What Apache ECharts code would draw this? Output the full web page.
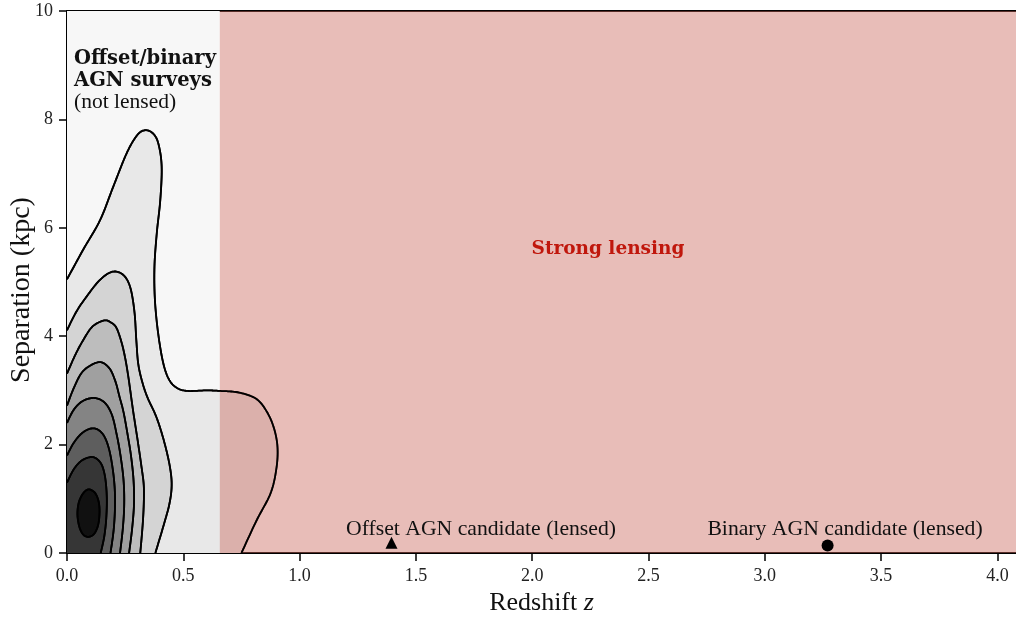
<!DOCTYPE html>
<html>
<head>
<meta charset="utf-8">
<script src="https://cdn.jsdelivr.net/npm/echarts@6/dist/echarts.min.js"></script>
<style>
html,body{margin:0;padding:0;background:#fff;}
#chart{width:1016px;height:617px;}
</style>
</head>
<body>
<div id="chart"></div>
<script>
// ---- axis ranges / ticks ----
const zRange = [0, 4.08];
const sepRange = [0, 10];
const zTickStep = 0.5;
const sepTickStep = 2;

// ---- regions (redshift) ----
const surveyRegion = [0, 0.657];
const lensingRegion = [0.657, 4.08];

// ---- KDE contour lines: [z, separation] ----
const contour1 = [[0,5.05],[0.07,5.6],[0.142,6.14],[0.199,6.76],[0.256,7.37],[0.3,7.7],[0.335,7.8],[0.37,7.74],[0.393,7.55],[0.407,7.13],[0.401,6.51],[0.386,5.9],[0.376,5.28],[0.378,4.67],[0.392,4.05],[0.414,3.5],[0.44,3.19],[0.475,3.04],[0.52,2.99],[0.6,3.0],[0.66,2.99],[0.74,2.96],[0.815,2.84],[0.86,2.6],[0.89,2.3],[0.905,1.95],[0.9,1.55],[0.875,1.1],[0.815,0.6],[0.75,0]];
const contour2 = [[0,4.11],[0.04,4.45],[0.084,4.73],[0.142,5.04],[0.196,5.19],[0.242,5.13],[0.272,4.9],[0.29,4.45],[0.298,3.93],[0.306,3.5],[0.322,3.18],[0.345,2.88],[0.385,2.5],[0.418,2.05],[0.442,1.6],[0.45,1.25],[0.44,0.9],[0.414,0.49],[0.38,0]];
const contour3 = [[0,3.31],[0.035,3.65],[0.07,3.93],[0.11,4.18],[0.16,4.29],[0.19,4.25],[0.213,4.15],[0.235,3.88],[0.25,3.6],[0.262,3.3],[0.272,3.0],[0.285,2.6],[0.303,2.1],[0.32,1.6],[0.33,1.25],[0.33,0.9],[0.325,0.5],[0.315,0]];
const contour4 = [[0,2.72],[0.03,3.05],[0.07,3.36],[0.136,3.52],[0.18,3.42],[0.207,3.18],[0.226,2.88],[0.243,2.6],[0.26,2.2],[0.275,1.8],[0.286,1.35],[0.288,0.9],[0.28,0.45],[0.267,0]];
const contour5 = [[0,2.4],[0.03,2.65],[0.07,2.81],[0.12,2.86],[0.163,2.77],[0.193,2.55],[0.213,2.2],[0.23,1.8],[0.243,1.35],[0.246,0.9],[0.24,0.45],[0.228,0]];
const contour6 = [[0,1.8],[0.03,2.04],[0.07,2.23],[0.115,2.3],[0.153,2.2],[0.178,1.96],[0.195,1.6],[0.205,1.2],[0.206,0.8],[0.2,0.4],[0.187,0]];
const contour7 = [[0,1.3],[0.03,1.55],[0.065,1.71],[0.11,1.77],[0.145,1.66],[0.163,1.42],[0.171,1.05],[0.169,0.65],[0.16,0.3],[0.145,0]];
const contour8 = [[0.1,1.17],[0.122,1.1],[0.136,0.95],[0.14,0.75],[0.134,0.52],[0.118,0.36],[0.095,0.3],[0.072,0.33],[0.054,0.47],[0.045,0.7],[0.05,0.92],[0.066,1.08],[0.084,1.16]];
const contours = [contour1, contour2, contour3, contour4, contour5, contour6, contour7, contour8];
const contourClosed = [false, false, false, false, false, false, false, true];
const contourColors = ['#e8e8e8','#d4d4d4','#bdbdbd','#a0a0a0','#848484','#5e5e5e','#363636','#111111'];

// ---- lensed candidates ----
const offsetAGN = [[1.395, 0.19]];
const binaryAGN = [[3.27, 0.14]];

// Catmull-Rom sampling in pixel space (rendering only)
function spline(pts, closed, seg) {
  const out = []; const n = pts.length;
  const get = i => closed ? pts[(i + n) % n] : pts[Math.max(0, Math.min(n - 1, i))];
  const m = closed ? n : n - 1;
  for (let i = 0; i < m; i++) {
    const p0 = get(i - 1), p1 = get(i), p2 = get(i + 1), p3 = get(i + 2);
    for (let t = 0; t < seg; t++) {
      const s = t / seg, s2 = s * s, s3 = s2 * s;
      const f = k => 0.5 * (2 * p1[k] + (-p0[k] + p2[k]) * s + (2 * p0[k] - 5 * p1[k] + 4 * p2[k] - p3[k]) * s2 + (-p0[k] + 3 * p1[k] - 3 * p2[k] + p3[k]) * s3);
      out.push([f(0), f(1)]);
    }
  }
  if (!closed) out.push(pts[n - 1]);
  return out;
}

const chart = echarts.init(document.getElementById('chart'), null, {renderer: 'canvas'});
const serif = '"Liberation Serif", "Times New Roman", serif';
const boldSerif = '"DejaVu Serif", serif';

function contourItem(fill, stroke) {
  return function (params, api) {
    const i = params.dataIndex;
    const px = contours[i].map(p => api.coord(p));
    const curve = spline(px, contourClosed[i], 12);
    const children = [];
    if (fill) {
      const poly = curve.slice();
      if (!contourClosed[i]) poly.push(api.coord([0, 0]));
      children.push({type: 'polygon', shape: {points: poly}, style: {fill: contourColors[i], stroke: null}});
    }
    if (stroke) {
      children.push({type: contourClosed[i] ? 'polygon' : 'polyline', shape: {points: curve}, style: {fill: null, stroke: '#000', lineWidth: 1.8}});
    }
    return {type: 'group', children: children};
  };
}

function rectItem(color) {
  return function (params, api) {
    const a = api.coord([api.value(0), sepRange[1]]);
    const b = api.coord([api.value(1), sepRange[0]]);
    return {type: 'rect', shape: {x: a[0], y: a[1], width: b[0] - a[0], height: b[1] - a[1]}, style: {fill: color}};
  };
}

const option = {
  animation: false,
  backgroundColor: '#fff',
  grid: {left: 67, right: 0, top: 11, bottom: 64, containLabel: false, outerBoundsMode: 'none'},
  xAxis: [{
    type: 'value', min: zRange[0], max: zRange[1], interval: zTickStep,
    name: '{r|Redshift }{i|z}', nameLocation: 'middle', nameGap: 35,
    nameTextStyle: {rich: {
      r: {fontFamily: serif, fontSize: 26, color: '#111'},
      i: {fontFamily: serif, fontSize: 26, fontStyle: 'italic', color: '#111'}
    }},
    axisLine: {show: true, onZero: false, lineStyle: {color: '#000', width: 2}},
    axisTick: {show: true, length: 8, lineStyle: {color: '#000', width: 1.5}},
    axisLabel: {show: true, margin: 14, fontFamily: serif, fontSize: 18, color: '#222', showMaxLabel: false,
      formatter: v => (Math.abs(v / zTickStep - Math.round(v / zTickStep)) < 1e-6 ? v.toFixed(1) : '')},
    splitLine: {show: false}
  }, {
    type: 'value', position: 'top', min: zRange[0], max: zRange[1],
    axisLine: {show: true, onZero: false, lineStyle: {color: '#000', width: 2}},
    axisTick: {show: false}, axisLabel: {show: false}, splitLine: {show: false}
  }],
  yAxis: {
    type: 'value', min: sepRange[0], max: sepRange[1], interval: sepTickStep,
    axisLine: {show: true, onZero: false, lineStyle: {color: '#000', width: 2}},
    axisTick: {show: true, length: 8, lineStyle: {color: '#000', width: 1.5}},
    axisLabel: {show: true, margin: 14, fontFamily: serif, fontSize: 18, color: '#222'},
    splitLine: {show: false}
  },
  series: [
    {type: 'custom', name: 'surveys', coordinateSystem: 'cartesian2d', clip: true, z: 1,
      data: [surveyRegion], renderItem: rectItem('#f7f7f7'), silent: true},
    {type: 'custom', name: 'kde', coordinateSystem: 'cartesian2d', clip: true, z: 2,
      data: contours.map((c, i) => [i]), renderItem: contourItem(true, true), silent: true},
    {type: 'custom', name: 'lensing', coordinateSystem: 'cartesian2d', clip: true, z: 3,
      data: [lensingRegion], renderItem: rectItem('rgba(202,103,92,0.435)'), silent: true},
    {type: 'custom', name: 'kdeLines', coordinateSystem: 'cartesian2d', clip: true, z: 4,
      data: contours.map((c, i) => [i]), renderItem: contourItem(false, true), silent: true},
    {type: 'scatter', name: 'offset', data: offsetAGN, symbol: 'triangle', symbolSize: 12,
      itemStyle: {color: '#000', opacity: 1}, z: 5},
    {type: 'scatter', name: 'binary', data: binaryAGN, symbol: 'circle', symbolSize: 12,
      itemStyle: {color: '#000', opacity: 1}, z: 5}
  ],
  graphic: [
    {type: 'text', z: 10, x: 22, y: 290, rotation: Math.PI / 2, style: {text: 'Separation (kpc)', x: 0, y: 0, font: '28px ' + serif, fill: '#111', textAlign: 'center', textVerticalAlign: 'middle'}},
    {type: 'text', z: 10, style: {text: 'Offset/binary', x: 74, y: 59, font: 'bold 19.5px ' + boldSerif, fill: '#111', textAlign: 'left', textVerticalAlign: 'middle'}},
    {type: 'text', z: 10, style: {text: 'AGN surveys', x: 74, y: 81, font: 'bold 19.5px ' + boldSerif, fill: '#111', textAlign: 'left', textVerticalAlign: 'middle'}},
    {type: 'text', z: 10, style: {text: '(not lensed)', x: 74, y: 102, font: '21.5px ' + serif, fill: '#111', textAlign: 'left', textVerticalAlign: 'middle'}},
    {type: 'text', z: 10, style: {text: 'Strong lensing', x: 608, y: 249, font: 'bold 18.5px ' + boldSerif, fill: '#c0170c', textAlign: 'center', textVerticalAlign: 'middle'}},
    {type: 'text', z: 10, style: {text: 'Offset AGN candidate (lensed)', x: 481, y: 529, font: '21.7px ' + serif, fill: '#111', textAlign: 'center', textVerticalAlign: 'middle'}},
    {type: 'text', z: 10, style: {text: 'Binary AGN candidate (lensed)', x: 845, y: 529, font: '21.7px ' + serif, fill: '#111', textAlign: 'center', textVerticalAlign: 'middle'}}
  ]
};
chart.setOption(option);
</script>
</body>
</html>
